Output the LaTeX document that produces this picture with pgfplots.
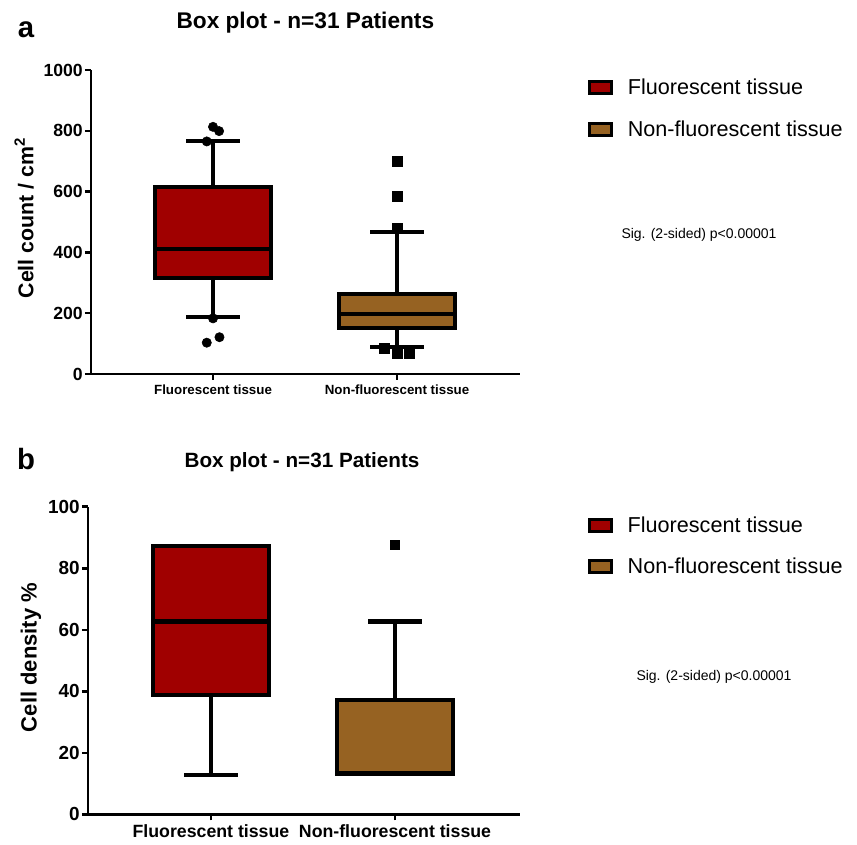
\documentclass[border=0pt]{standalone}
\usepackage{fontspec}
\setmainfont{Liberation Sans}
\usepackage{pgfplots}
\pgfplotsset{compat=1.18}
\usepgfplotslibrary{statistics}
\definecolor{fluor}{RGB}{160,0,0}
\definecolor{nonfl}{RGB}{150,98,34}
\pgfplotsset{
  panel/.style={
    scale only axis,
    boxplot/draw direction=y,
    axis lines=left,
    axis line style={-, line width=1.9pt},
    every tick/.style={black, line width=1.9pt},
    major tick length=4.5pt,
    tick align=outside,
    xtick={1,2},
    xticklabels={Fluorescent tissue, Non-fluorescent tissue},
    yticklabel style={inner xsep=1.5pt},
    /pgf/number format/assume math mode=true,
    /pgf/number format/1000 sep={},
    clip=false,
    legend cell align=left,
    legend image code/.code={\draw[##1,line width=2.2pt] (0pt,-4.5pt) rectangle (16.5pt,4.5pt);},
  },
}
\begin{document}
\begin{tikzpicture}
\path[use as bounding box] (0,0) rectangle (642.75pt,633.75pt);

% ---------- panel a ----------
\begin{axis}[panel,
  at={(68.25pt,353.25pt)}, anchor=south west,
  width=321.75pt, height=228pt,
  xmin=0.337, xmax=2.668, ymin=0, ymax=1000,
  ytick={0,200,400,600,800,1000},
  yticklabel style={font=\fontsize{13.2}{15}\selectfont\bfseries},
  xticklabel style={font=\fontsize{10}{12}\selectfont\bfseries},
  ylabel={Cell count / cm$^{\mathbf{2}}$},
  ylabel style={font=\fontsize{16}{18}\selectfont\bfseries, at={(axis description cs:-0.156,0.513)}, anchor=center},
  legend style={at={(1.1585,0.982)}, anchor=north west, draw=none, fill=none, inner sep=0pt,
    font=\fontsize{16.2}{19}\selectfont, row sep=14.5pt,
    /tikz/every odd column/.append style={column sep=9pt}},
]
\addplot[boxplot prepared={draw position=1, lower whisker=188, lower quartile=316,
  median=410, upper quartile=616, upper whisker=765, box extend=0.63, whisker extend=0.29},
  draw=black, fill=fluor, line width=3pt, forget plot] coordinates {};
\addplot[boxplot prepared={draw position=2, lower whisker=90, lower quartile=150,
  median=196, upper quartile=263, upper whisker=468, box extend=0.63, whisker extend=0.29},
  draw=black, fill=nonfl, line width=3pt, forget plot] coordinates {};
\addplot[only marks, mark=*, mark size=3.5pt, black, forget plot] coordinates {
  (0.966,765) (1.0,813) (1.033,799) (1.0,183) (0.966,103) (1.035,121)};
\addplot[only marks, mark=square*, mark size=3.75pt, black, forget plot] coordinates {
  (2,700) (2,583) (2,479) (1.93,84) (2,68) (2.067,68)};
\addlegendimage{draw=black, fill=fluor}
\addlegendentry{Fluorescent tissue}
\addlegendimage{draw=black, fill=nonfl}
\addlegendentry{Non-fluorescent tissue}
\end{axis}

% ---------- panel b ----------
\begin{axis}[panel,
  at={(66pt,23pt)}, anchor=south west,
  width=324pt, height=230.7pt,
  xmin=0.332, xmax=2.679, ymin=0, ymax=100,
  ytick={0,20,40,60,80,100},
  yticklabel style={font=\fontsize{14.2}{16}\selectfont\bfseries},
  xticklabel style={font=\fontsize{13.3}{15}\selectfont\bfseries},
  ylabel={Cell density \%},
  ylabel style={font=\fontsize{16.5}{18}\selectfont\bfseries, at={(axis description cs:-0.132,0.51)}, anchor=center},
  legend style={at={(1.157,0.976)}, anchor=north west, draw=none, fill=none, inner sep=0pt,
    font=\fontsize{16.2}{19}\selectfont, row sep=13pt,
    /tikz/every odd column/.append style={column sep=9pt}},
]
\addplot[boxplot prepared={draw position=1, lower whisker=12.8, lower quartile=38.8,
  median=62.6, upper quartile=87.2, upper whisker=87.2, box extend=0.63, whisker extend=0.29},
  draw=black, fill=fluor, line width=3.6pt, forget plot] coordinates {};
\addplot[boxplot prepared={draw position=2, lower whisker=13.3, lower quartile=13.3,
  median=13.3, upper quartile=37.2, upper whisker=62.8, box extend=0.63, whisker extend=0.29},
  draw=black, fill=nonfl, line width=3.6pt, forget plot] coordinates {};
\addplot[only marks, mark=square*, mark size=3.5pt, black, forget plot] coordinates {(2,87.7)};
\addlegendimage{draw=black, fill=fluor}
\addlegendentry{Fluorescent tissue}
\addlegendimage{draw=black, fill=nonfl}
\addlegendentry{Non-fluorescent tissue}
\end{axis}

% ---------- titles and notes ----------
\node[font=\fontsize{22}{24}\selectfont\bfseries, anchor=base] at (19.5pt,605.25pt) {a};
\node[font=\fontsize{22}{24}\selectfont\bfseries, anchor=base] at (19.5pt,281.25pt) {b};
\node[font=\fontsize{17}{19}\selectfont\bfseries] at (229pt,617pt) {Box plot - n=31 Patients};
\node[font=\fontsize{15.5}{17}\selectfont\bfseries] at (226.5pt,287pt) {Box plot - n=31 Patients};
\node[font=\fontsize{10.5}{12}\selectfont] at (524.25pt,457.5pt) {Sig. (2-sided) p<0.00001};
\node[font=\fontsize{10.5}{12}\selectfont] at (535.5pt,126pt) {Sig. (2-sided) p<0.00001};
\end{tikzpicture}
\end{document}
